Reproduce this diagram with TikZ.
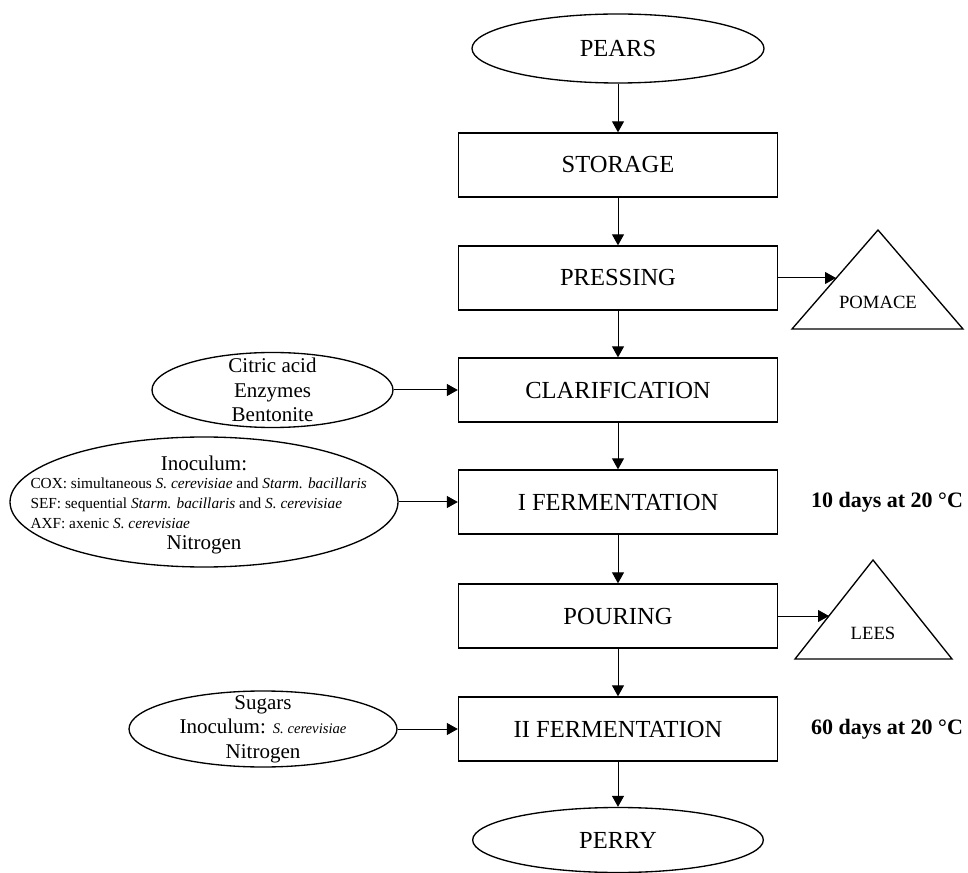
\documentclass[tikz,border=0pt]{standalone}
\usepackage{fontspec}
\setmainfont{Liberation Serif}
\usetikzlibrary{shapes.geometric,arrows.meta}

\tikzset{every picture/.style={line width=0.75pt}}

\begin{document}
\begin{tikzpicture}[x=0.75pt,y=0.75pt,yscale=-1,xscale=1,
  stepbox/.style={draw,line width=1pt,minimum width=239.25pt,minimum height=48pt,inner sep=0pt,font=\fontsize{18.4}{22}\selectfont},
  endoval/.style={draw,ellipse,line width=1pt,inner sep=0pt,font=\fontsize{18.4}{22}\selectfont},
  addoval/.style={draw,ellipse,line width=1pt,inner sep=0pt},
  addtext/.style={align=center,inner sep=0pt,font=\fontsize{15.75}{18.4}\selectfont},
  flow/.style={-{Triangle[length=8.25pt,width=9pt]}},
  waste/.style={line width=1pt,line join=miter},
  wastetext/.style={inner sep=0pt,font=\fontsize{14}{16}\selectfont},
  temptext/.style={inner sep=0pt,font=\fontsize{16.5}{19}\selectfont\bfseries}]

\useasboundingbox (0,0) rectangle (968,873);

% main line
\node (pears) at (618,48.5) [endoval,minimum width=219pt,minimum height=51.75pt] {PEARS};
\node (storage) at (618,165) [stepbox] {STORAGE};
\node (pressing) at (618,278) [stepbox] {PRESSING};
\node (clarif) at (618,390) [stepbox] {CLARIFICATION};
\node (ferm1) at (618,502) [stepbox] {I FERMENTATION};
\node (pouring) at (618,616) [stepbox] {POURING};
\node (ferm2) at (618,729) [stepbox] {II FERMENTATION};
\node (perry) at (618,840) [endoval,minimum width=218pt,minimum height=48.75pt] {PERRY};

% additions
\node (citric) at (272.5,390) [addoval,minimum width=180.75pt,minimum height=56.25pt] {};
\node (citrictxt) at (citric) [addtext] {Citric acid\\Enzymes\\Bentonite};

\node (inoc) at (204,502) [addoval,minimum width=291pt,minimum height=97.5pt] {};
\node (inoctitle) at (204,463) [addtext] {Inoculum:};
\node (inocstrains) at (30,503) [anchor=west,align=left,inner sep=0pt,font=\fontsize{11.5}{15}\selectfont] {COX: simultaneous \textit{S. cerevisiae} and \textit{Starm. bacillaris}\\SEF: sequential \textit{Starm. bacillaris} and \textit{S. cerevisiae}\\AXF: axenic \textit{S. cerevisiae}};
\node (inocnitro) at (204,545) [addtext] {Nitrogen};

\node (sugars) at (263,729) [addoval,minimum width=201pt,minimum height=57pt] {};
\node (sugarstxt) at (sugars) [addtext] {Sugars\\Inoculum: {\fontsize{11}{13}\selectfont\itshape S. cerevisiae}\\Nitrogen};

% by-products
\draw [waste] (792,329) -- (878,230) -- (963,329) -- cycle;
\coordinate (pomace) at (836,278);
\node (pomacetxt) at (878,302) [wastetext] {POMACE};

\draw [waste] (795,659) -- (873,560) -- (952,659) -- cycle;
\coordinate (lees) at (829,616);
\node (leestxt) at (873,633) [wastetext] {LEES};

\node (temp1) at (887,502) [temptext] {10 days at 20 °C};
\node (temp2) at (887,729) [temptext] {60 days at 20 °C};

\draw [flow] (pears.south) -- (storage.north);
\draw [flow] (storage.south) -- (pressing.north);
\draw [flow] (pressing.south) -- (clarif.north);
\draw [flow] (clarif.south) -- (ferm1.north);
\draw [flow] (ferm1.south) -- (pouring.north);
\draw [flow] (pouring.south) -- (ferm2.north);
\draw [flow] (ferm2.south) -- (perry.north);
\draw [flow] (pressing.east) -- (pomace);
\draw [flow] (pouring.east) -- (lees);
\draw [flow] (citric.east) -- (clarif.west);
\draw [flow] (inoc.east) -- (ferm1.west);
\draw [flow] (sugars.east) -- (ferm2.west);

\end{tikzpicture}
\end{document}
